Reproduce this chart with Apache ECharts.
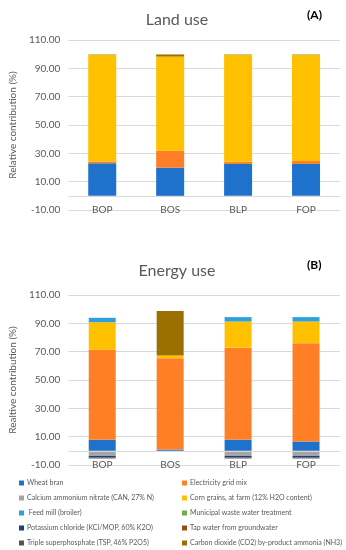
<!DOCTYPE html>
<html><head><meta charset="utf-8">
<script src="https://cdn.jsdelivr.net/npm/echarts@6/dist/echarts.min.js"></script>
<style>html,body{margin:0;padding:0;background:#fff}#c{width:346px;height:550px}</style>
</head><body><div id="c"></div>
<script>
var categories = ['BOP', 'BOS', 'BLP', 'FOP'];
var yTicks = [-10, 10, 30, 50, 70, 90, 110];
var seriesNames = ['Wheat bran', 'Electricity grid mix', 'Calcium ammonium nitrate (CAN, 27% N)', 'Corn grains, at farm (12% H2O content)', ' Feed mill (broiler)', 'Municipal waste water treatment', 'Potassium chloride (KCl/MOP, 60% K2O)', 'Tap water from groundwater', 'Triple superphosphate (TSP, 46% P2O5)', 'Carbon dioxide (CO2) by-product ammonia (NH3)'];

// Land use (A)
var landWheatBran = [23.0, 19.9, 22.5, 22.5];
var landElectricity = [1.3, 11.9, 1.5, 2.1];
var landCAN = [0, 0, 0, 0];
var landCorn = [75.5, 66.5, 75.8, 75.2];
var landFeedMill = [0.2, 0, 0.2, 0.2];
var landMunicipal = [0, 0, 0, 0];
var landKCl = [0, 0, 0, 0];
var landTapWater = [0, 0, 0, 0];
var landTSP = [0, 0, 0, 0];
var landCO2 = [0, 1.5, 0, 0];

// Energy use (B)
var energyWheatBran = [7.8, 0.9, 7.8, 6.6];
var energyElectricity = [63.5, 64.5, 65.0, 69.4];
var energyCAN = [-3.6, -0.6, -3.6, -3.6];
var energyCorn = [19.5, 1.9, 18.5, 15.3];
var energyFeedMill = [3.1, 0, 3.1, 3.1];
var energyMunicipal = [0, 0, 0, 0];
var energyKCl = [-1.0, -0.2, -1.0, -1.0];
var energyTapWater = [0, 0, 0, 0];
var energyTSP = [-0.8, 0, -0.8, -0.8];
var energyCO2 = [0, 31.4, 0, 0];

var landData = [landWheatBran, landElectricity, landCAN, landCorn, landFeedMill, landMunicipal, landKCl, landTapWater, landTSP, landCO2];
var energyData = [energyWheatBran, energyElectricity, energyCAN, energyCorn, energyFeedMill, energyMunicipal, energyKCl, energyTapWater, energyTSP, energyCO2];
var colors = ['#1F72CC', '#FF7F27', '#A5A5A5', '#FFC000', '#2EA0DC', '#70AD47', '#1F3F7A', '#9E480E', '#555555', '#9C7000'];

var chart = echarts.init(document.getElementById('c'), null, {renderer: 'canvas'});
var txt = '#595959';
var font = 'Lato';
function yAxis(gi, name, gap) {
  return {
    type: 'value', gridIndex: gi, min: -10, max: 110, interval: 20,
    name: name, nameLocation: 'middle', nameGap: gap, nameRotate: 90,
    nameTextStyle: {color: txt, fontSize: 10, fontFamily: font},
    axisLabel: {color: txt, fontSize: 10, fontFamily: font, margin: 8, formatter: function (v) { return v.toFixed(2); }},
    axisLine: {show: false}, axisTick: {show: false},
    splitLine: {lineStyle: {color: '#D9D9D9', width: 1}}
  };
}
function xAxis(gi) {
  return {
    type: 'category', gridIndex: gi, data: categories,
    axisLine: {show: false, onZero: false}, axisTick: {show: false},
    axisLabel: {color: txt, fontSize: 10, fontFamily: font, margin: -5, fontWeight: 'normal'}
  };
}
var series = [];
for (var i = 0; i < seriesNames.length; i++) {
  series.push({
    name: seriesNames[i], type: 'bar', stack: 'land', xAxisIndex: 0, yAxisIndex: 0,
    barWidth: 28, data: landData[i], itemStyle: {color: colors[i]}
  });
}
for (var j = 0; j < seriesNames.length; j++) {
  series.push({
    name: seriesNames[j], type: 'bar', stack: 'energy', xAxisIndex: 1, yAxisIndex: 1,
    barWidth: 27, data: energyData[j], itemStyle: {color: colors[j]}
  });
}
var zeroLine = {silent: true, symbol: 'none', label: {show: false}, lineStyle: {color: '#D9D9D9', type: 'solid', width: 1}, data: [{yAxis: 0}]};
series[0].markLine = zeroLine;
series[seriesNames.length].markLine = zeroLine;

var leftNames = [seriesNames[0], seriesNames[2], seriesNames[4], seriesNames[6], seriesNames[8]];
var rightNames = [seriesNames[1], seriesNames[3], seriesNames[5], seriesNames[7], seriesNames[9]];
function legend(left, names) {
  return {
    orient: 'vertical', left: left, top: 478, height: 80, padding: 0, data: names,
    icon: 'rect', itemWidth: 5, itemHeight: 5, itemGap: 5,
    selectedMode: false,
    textStyle: {color: txt, fontSize: 7, fontFamily: font, lineHeight: 10, padding: [0, 0, 0, -2]}
  };
}

chart.setOption({
  animation: false,
  color: colors,
  title: [
    {text: 'Land use', left: 172, top: 7, textAlign: 'center', textStyle: {color: txt, fontSize: 16, fontWeight: 'normal', fontFamily: font}},
    {text: '(A)', left: 302, top: 4, textStyle: {color: '#000', fontSize: 12, fontWeight: 'bold', fontFamily: font}},
    {text: 'Energy use', left: 172, top: 258, textAlign: 'center', textStyle: {color: txt, fontSize: 16, fontWeight: 'normal', fontFamily: font}},
    {text: '(B)', left: 302, top: 254, textStyle: {color: '#000', fontSize: 12, fontWeight: 'bold', fontFamily: font}}
  ],
  grid: [
    {left: 55, top: 40, width: 285, height: 170},
    {left: 63, top: 295, width: 277, height: 170}
  ],
  xAxis: [xAxis(0), xAxis(1)],
  yAxis: [yAxis(0, 'Relative contribution (%)', 45), yAxis(1, 'Realtive contribution (%)', 43)],
  legend: [legend(19, leftNames), legend(182, rightNames)],
  series: series
});
</script></body></html>
